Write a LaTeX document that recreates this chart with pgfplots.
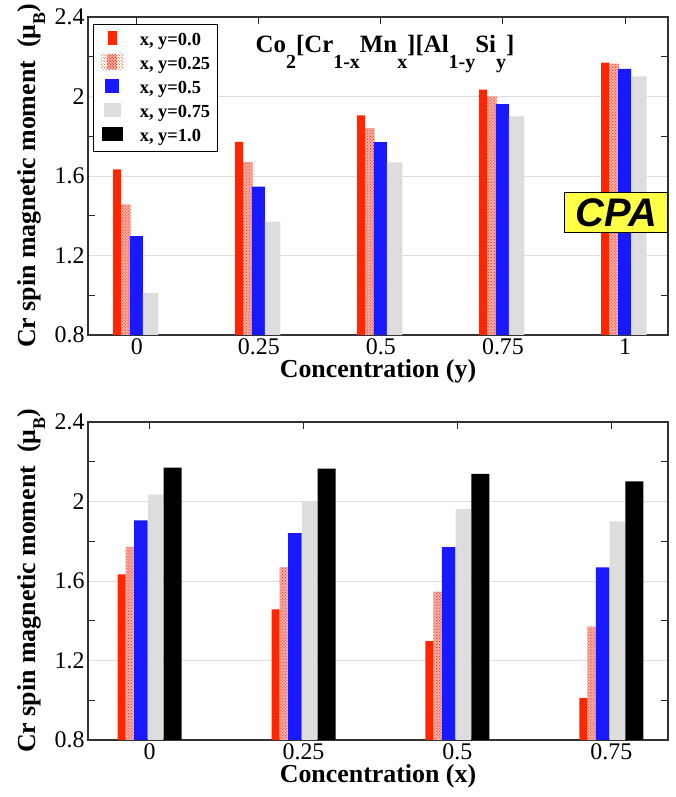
\documentclass[border=0pt]{standalone}
\usepackage{pgfplots}
\pgfplotsset{compat=1.18}
\usepackage{pgfplotstable}
\usetikzlibrary{patterns}
\usepackage{fontspec}
\setmainfont{Liberation Serif}
\newfontfamily\cpafont{Liberation Sans}

\definecolor{myred}{RGB}{255,38,0}
\definecolor{myblue}{RGB}{25,25,255}
\definecolor{mygray}{RGB}{221,221,221}
\definecolor{hatchbg}{RGB}{247,175,165}
\definecolor{mygrid}{RGB}{222,222,222}
\definecolor{cpayellow}{RGB}{255,255,70}

\tikzset{hatchfill/.style={fill=hatchbg, postaction={pattern=crosshatch dots, pattern color=myred}}}

\newcommand{\legbox}[2]{%
  \path[draw=none,fill=none] (0bp,-5bp) rectangle (22bp,11bp);
  \path[draw=none,#1] ({11bp-#2/2},-4.5bp) rectangle ({11bp+#2/2},10bp);}
\newcommand{\sub}[1]{\raisebox{-0.62em}{\fontsize{20}{20}\selectfont #1}}

% top chart: rows = concentration y, columns = series x
\pgfplotstableread{
c     a      b      d      e
0     1.633  1.457  1.298  1.012
0.25  1.772  1.670  1.547  1.370
0.5   1.905  1.841  1.770  1.668
0.75  2.035  2.000  1.962  1.900
1     2.170  2.165  2.139  2.101
}\toptab
% bottom chart: rows = concentration x, columns = series y
\pgfplotstableread{
c     a      b      d      e      f
0     1.633  1.772  1.905  2.035  2.170
0.25  1.457  1.670  1.841  2.000  2.165
0.5   1.298  1.547  1.770  1.962  2.139
0.75  1.012  1.370  1.668  1.900  2.101
}\bottab

\pgfplotsset{
  base/.style={
    anchor=south west, scale only axis, width=580bp, height=318bp,
    ymin=0.8, ymax=2.4,
    ytick={0.8,1.2,1.6,2.0,2.4},
    minor ytick={1.0,1.4,1.8,2.2},
    ymajorgrids, major grid style={draw=mygrid, line width=0.9bp},
    tick align=inside, major tick length=0bp, minor tick length=7bp,
    tick style={color=black!85, line width=1bp},
    axis line style={color=black!80, line width=1.2bp},
    /pgf/number format/assume math mode=true,
    xticklabel={\pgfmathprintnumber{\tick}},
    yticklabel={\pgfmathprintnumber{\tick}},
    tick label style={font=\rmfamily\mdseries\fontsize{24}{28}\selectfont},
    label style={font=\fontsize{26}{30}\selectfont\bfseries},
    xlabel style={inner sep=1bp},
    ylabel style={inner sep=0pt},
    ylabel shift=6bp,
    ylabel={Cr spin magnetic moment\ \ (μ\raisebox{-0.35em}{\fontsize{18}{18}\selectfont B})},
    clip=true,
  }
}

\begin{document}
\begin{tikzpicture}
\begin{axis}[base, at={(88bp,462bp)},
  xmin=-0.1, xmax=1.088,
  xtick={0,0.25,0.5,0.75,1}, minor xtick={0,0.25,0.5,0.75,1},
  xlabel={Concentration (y)},
  legend cell align=left,
  legend style={at={(axis description cs:0,1)}, anchor=north west,
    xshift=5bp, yshift=-7bp, draw=black, line width=1bp, fill=white,
    inner xsep=7.7bp, inner ysep=5.5bp, row sep=4.25bp, column sep=16.6bp,
    font=\fontsize{18.5}{20}\selectfont\bfseries,
    nodes={inner sep=0pt, text height=13bp, text depth=4.5bp}},
]
\addplot[ybar, bar width=8bp, bar shift=-20bp, fill=myred, draw=none,
  legend image code/.code={\legbox{fill=myred}{9bp}}] table[x=c, y=a] {\toptab};
\addlegendentry{x, y=0.0}
\addplot[ybar, bar width=9.5bp, bar shift=-11bp, hatchfill, draw=none,
  legend image code/.code={\legbox{hatchfill}{10bp}}] table[x=c, y=b] {\toptab};
\addlegendentry{x, y=0.25}
\addplot[ybar, bar width=13bp, bar shift=-0.5bp, fill=myblue, draw=none,
  legend image code/.code={\legbox{fill=myblue}{14bp}}] table[x=c, y=d] {\toptab};
\addlegendentry{x, y=0.5}
\addplot[ybar, bar width=15.5bp, bar shift=13.75bp, fill=mygray, draw=none,
  legend image code/.code={\legbox{fill=mygray}{17bp}}] table[x=c, y=e] {\toptab};
\addlegendentry{x, y=0.75}
\addlegendimage{draw=none, fill=black, mark=none,
  legend image code/.code={\legbox{fill=black}{21bp}}}
\addlegendentry{x, y=1.0}
\node[anchor=base, font=\fontsize{25}{28}\selectfont\bfseries]
  at (axis description cs:0.512,0.887)
  {Co\sub{2}[Cr\sub{1-x}Mn\sub{x}][Al\sub{1-y}Si\sub{y}]};
\node[fill=cpayellow, draw=black, line width=1.2bp, minimum width=103bp,
  minimum height=40bp, inner sep=0pt,
  font=\cpafont\fontsize{40}{40}\selectfont\bfseries\itshape]
  at (axis description cs:0.911,0.384) {CPA};
\end{axis}

\begin{axis}[base, at={(88bp,57bp)},
  xmin=-0.1, xmax=0.842,
  xtick={0,0.25,0.5,0.75}, minor xtick={0,0.25,0.5,0.75},
  xlabel={Concentration (x)},
]
\addplot[ybar, bar width=8bp, bar shift=-28bp, fill=myred, draw=none] table[x=c, y=a] {\bottab};
\addplot[ybar, bar width=8.5bp, bar shift=-19.75bp, hatchfill, draw=none] table[x=c, y=b] {\bottab};
\addplot[ybar, bar width=13.5bp, bar shift=-8.75bp, fill=myblue, draw=none] table[x=c, y=d] {\bottab};
\addplot[ybar, bar width=15.5bp, bar shift=6bp, fill=mygray, draw=none] table[x=c, y=e] {\bottab};
\addplot[ybar, bar width=18bp, bar shift=23bp, fill=black, draw=none] table[x=c, y=f] {\bottab};
\end{axis}
\pgfresetboundingbox
\useasboundingbox (0,0) rectangle (676bp,797bp);
\end{tikzpicture}
\end{document}
